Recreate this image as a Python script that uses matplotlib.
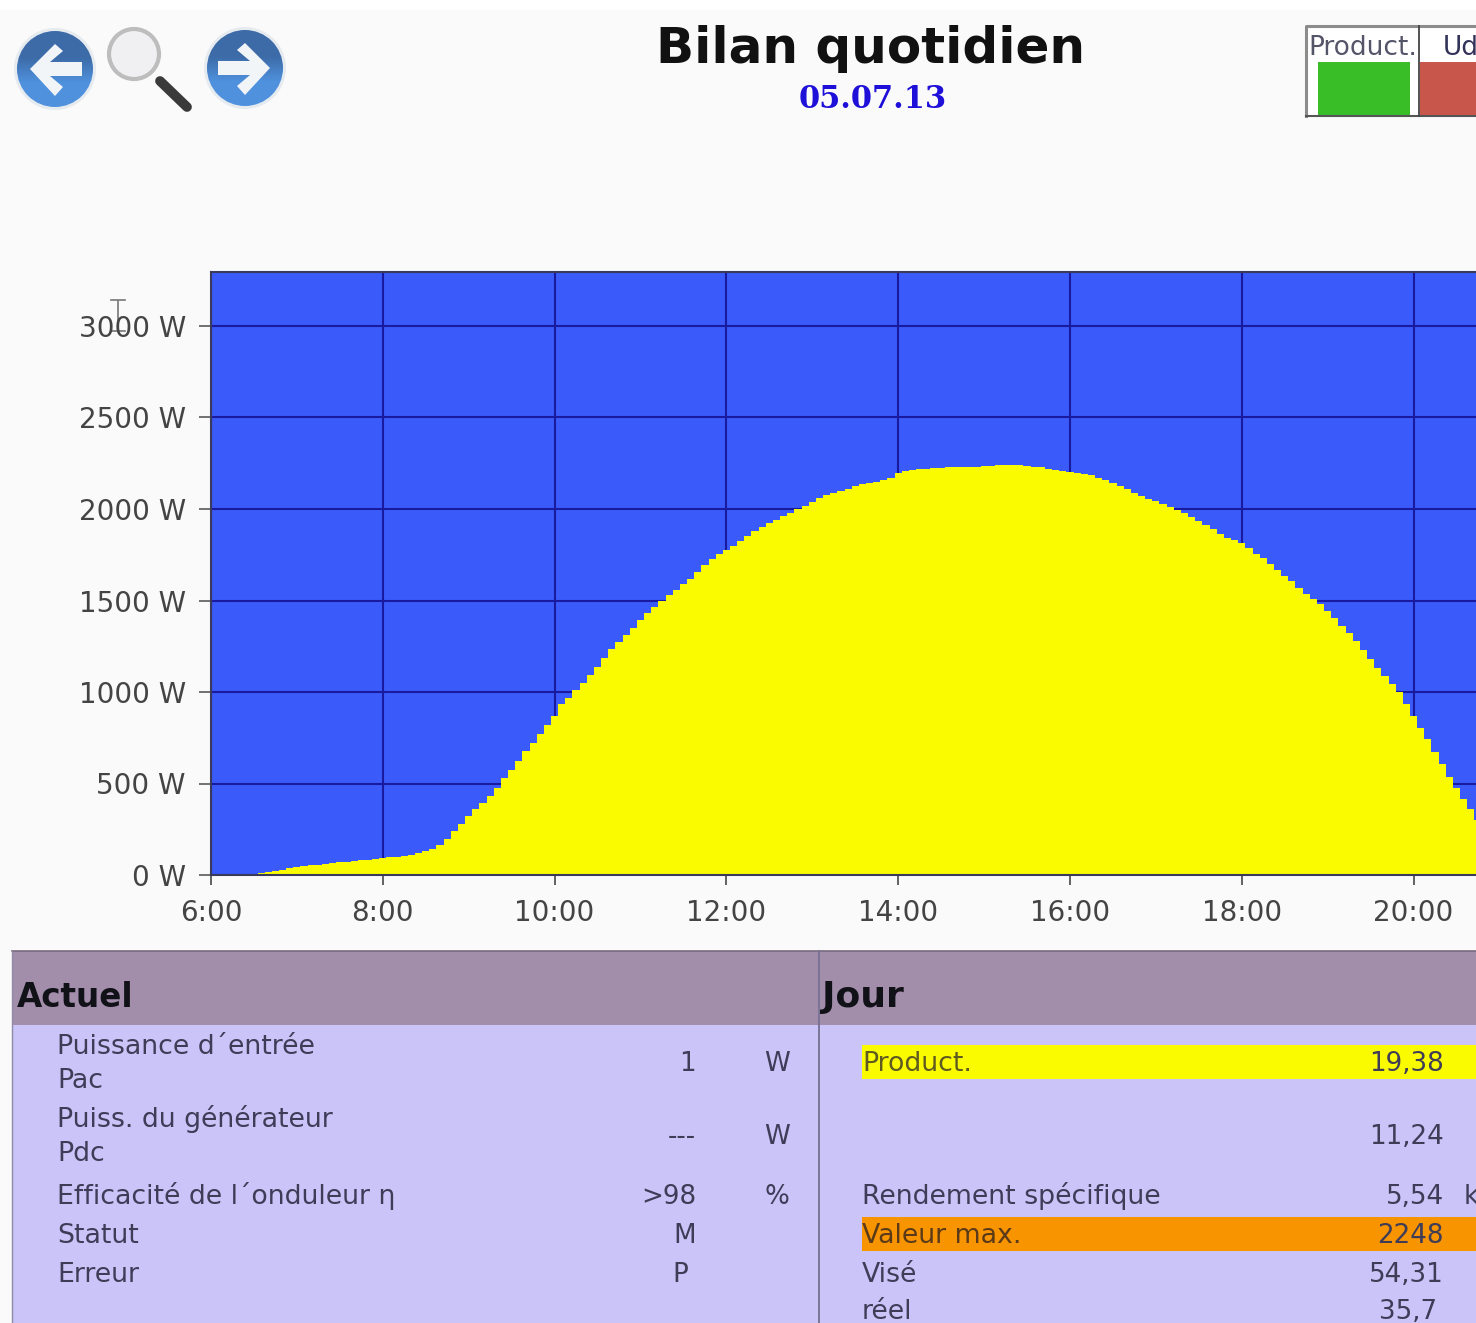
import numpy as np
import matplotlib
matplotlib.use("Agg")
import matplotlib.pyplot as plt
from matplotlib.patches import Rectangle, Circle, Polygon

plt.rcParams['font.family'] = ['DejaVu Sans']

# readings at 5-minute steps, first reading at 6:25
start_minutes = 25
power_w = [
 0,5,11,16,22,30,38,45,50,53,56,61,66,70,73,76,80,83,89,94,97,100,103,108,118,130,142,162,198,240,
 280,320,358,392,430,478,532,576,622,675,722,768,822,870,935,968,1012,1050,1093,1138,1185,1234,1272,1312,1350,1392,1430,1465,1500,1530,
 1556,1590,1620,1656,1692,1728,1752,1778,1800,1824,1850,1878,1902,1922,1942,1960,1978,1998,2018,2036,2060,2074,2086,2098,2112,2124,2134,2142,2150,2156,
 2172,2196,2206,2212,2217,2221,2224,2226,2228,2229,2230,2230,2232,2234,2236,2238,2240,2240,2238,2236,2232,2228,2220,2212,2206,2200,2195,2190,2186,2172,
 2158,2144,2128,2108,2086,2070,2056,2042,2026,2010,1994,1978,1958,1936,1914,1892,1866,1842,1832,1812,1786,1756,1730,1702,1668,1636,1604,1568,1538,1510,
 1480,1442,1404,1362,1322,1276,1228,1178,1130,1090,1045,1000,935,870,806,745,672,605,535,475,418,360,300]

x_ticks = [6, 8, 10, 12, 14, 16, 18, 20]
x_labels = ['6:00', '8:00', '10:00', '12:00', '14:00', '16:00', '18:00', '20:00']
y_ticks = [0, 500, 1000, 1500, 2000, 2500, 3000]
y_labels = ['0 W', '500 W', '1000 W', '1500 W', '2000 W', '2500 W', '3000 W']

title = 'Bilan quotidien'
date = '05.07.13'
actuel_labels = ['Puissance d´entrée', 'Pac', 'Puiss. du générateur', 'Pdc',
                 'Efficacité de l´onduleur η', 'Statut', 'Erreur']
actuel_values = ['1', '---', '>98', 'M', 'P']
actuel_units = ['W', 'W', '%']
jour_labels = ['Product.', 'Rendement spécifique', 'Valeur max.', 'Visé', 'réel']
jour_values = ['19,38', '11,24', '5,54', '2248', '54,31', '35,7']

W, H = 1476, 1323
fig = plt.figure(figsize=(W / 100, H / 100), dpi=100, facecolor='#FBFAFA')

# page overlay in pixel coordinates
bg = fig.add_axes([0, 0, 1, 1], zorder=0)
bg.set_xlim(0, W); bg.set_ylim(H, 0); bg.axis('off')
bg.add_patch(Rectangle((0, 0), W, 10, fc='white', ec='none'))

TXT = '#3F3C58'
# navigation icons
grad = np.linspace(0, 1, 64)[:, None]
cols = np.array([[0.24, 0.42, 0.66]]) + (np.clip((grad - 0.35) * 3, 0, 1)) * np.array([[0.07, 0.15, 0.21]])
for cx, cy, direction in [(55, 69, -1), (245, 68, 1)]:
    bg.add_patch(Circle((cx, cy), 41, fc='#E6EBF0', ec='none'))
    im = bg.imshow(cols[:, None, :], extent=(cx - 38, cx + 38, cy + 38, cy - 38), aspect='auto', zorder=2)
    im.set_clip_path(Circle((cx, cy), 38, transform=bg.transData))
    pts = np.array([[-25, 1], [0, -24], [8, -17], [-5, -6], [27, -6], [27, 8], [-5, 8], [8, 19], [0, 28]], float)
    pts[:, 0] *= -direction
    pts[:, 1] -= 1
    bg.add_patch(Polygon(pts + [cx, cy], fc='#F2F5F8', ec='none', zorder=3))
bg.add_patch(Circle((134, 54), 25, fc='#F0F0F2', ec='#BDBDBD', lw=3, zorder=3))
bg.plot([160, 187], [81, 107], color='#3A3A3A', lw=7, solid_capstyle='round', zorder=3)

# legend box at the top right
bg.add_patch(Rectangle((1306, 26), W - 1306, 90, fc='white', ec='none'))
bg.plot([1306, 1306, W], [116, 26, 26], color='#8C8C8C', lw=2.2)
bg.plot([1306, W], [116, 116], color='#555555', lw=1.5)
bg.plot([1419, 1419], [26, 116], color='#444444', lw=1.3)
bg.add_patch(Rectangle((1318, 62), 92, 53, fc='#39BE28', ec='none'))
bg.add_patch(Rectangle((1420, 62), 60, 53, fc='#C9564A', ec='none'))
bg.text(1308, 55, 'Product.', fontsize=19, color='#55556A', va='baseline')
bg.text(1443, 55, 'Ud', fontsize=19, color='#33335A', va='baseline')

# titles
bg.text(871, 63, title, fontsize=36, fontweight='bold', color='#111111', ha='center', va='baseline')
bg.text(873, 108, date, fontsize=22, fontweight='bold', family='DejaVu Serif', color='#1E10D8', ha='center', va='baseline')

# cursor
bg.plot([118, 118], [301, 330], color='#777777', lw=1.2)
bg.plot([111, 125], [300, 300], color='#777777', lw=1.2)
bg.plot([111, 125], [331, 331], color='#777777', lw=1.2)

# table
bg.add_patch(Rectangle((12, 951), W - 12, H - 951, fc='#CAC4F8', ec='none'))
bg.add_patch(Rectangle((12, 951), W - 12, 74, fc='#A28DAB', ec='none'))
bg.plot([12, W], [951, 951], color='#766A7E', lw=1.2)
bg.plot([12, 12], [951, H], color='#8F8AA8', lw=1.0)
bg.plot([819, 819], [951, H], color='#7A7496', lw=1.4)
bg.add_patch(Rectangle((862, 1045), W - 862, 34, fc='#FBFB00', ec='none'))
bg.add_patch(Rectangle((862, 1217), W - 862, 34, fc='#F79400', ec='none'))
bg.text(17, 1007, 'Actuel', fontsize=23.5, fontweight='bold', color='#111118', va='baseline')
bg.text(822, 1007, 'Jour', fontsize=26, fontweight='bold', color='#111118', va='baseline')

fs = 19.3
fv = 18.8
for s, y in zip(actuel_labels, [1054, 1088, 1127, 1161, 1204, 1243, 1282]):
    bg.text(57, y, s, fontsize=fs, color=TXT, va='baseline')
for s, y, x in zip(actuel_values, [1071, 1144, 1204, 1243, 1282], [696, 696, 696, 696, 688]):
    bg.text(x, y, s, fontsize=fv, color=TXT, ha='right', va='baseline')
for s, y in zip(actuel_units, [1071, 1144, 1204]):
    bg.text(764, y, s, fontsize=fv, color=TXT, va='baseline')
label_colors = ['#5E5A20', TXT, '#5A3A18', TXT, TXT]
for s, y, c in zip(jour_labels, [1071, 1204, 1243, 1282, 1319], label_colors):
    bg.text(862, y, s, fontsize=fs, color=c, va='baseline')
for s, y, x in zip(jour_values, [1071, 1144, 1204, 1243, 1282, 1319], [1444, 1444, 1444, 1444, 1444, 1437]):
    bg.text(x, y, s, fontsize=fv, color=TXT, ha='right', va='baseline')
bg.text(1464, 1204, 'k', fontsize=fv, color=TXT, va='baseline')
bg.set_xlim(0, W); bg.set_ylim(H, 0)

# chart
ax = fig.add_axes([211 / W, 1 - 875 / H, (W - 211) / W, (875 - 272) / H], zorder=1, facecolor='#3A5BFA')
hours = 6 + (start_minutes + 5 * np.arange(len(power_w))) / 60
ax.fill_between(hours, power_w, 0, step='mid', color='#FBFB00', lw=0, zorder=2)
ax.set_xlim(6, 6 + (W - 211) / 85.9)
ax.set_ylim(0, (875 - 272) / 0.183)
ax.set_xticks(x_ticks, x_labels)
ax.set_yticks(y_ticks, y_labels)
ax.grid(True, color='#1A1A9E', lw=1.5)
ax.set_axisbelow(True)
ax.tick_params(axis='y', length=9, width=1.3, color='#666666', labelsize=20, labelcolor='#444444', pad=9)
ax.tick_params(axis='x', length=7, width=1.3, color='#555555', labelsize=20, labelcolor='#444444', pad=10)
for s in ['left', 'top', 'bottom']:
    ax.spines[s].set_color('#3A3A5A')
    ax.spines[s].set_linewidth(1.5)
ax.spines['right'].set_visible(False)

fig.savefig('out.png', dpi=100, facecolor=fig.get_facecolor())
